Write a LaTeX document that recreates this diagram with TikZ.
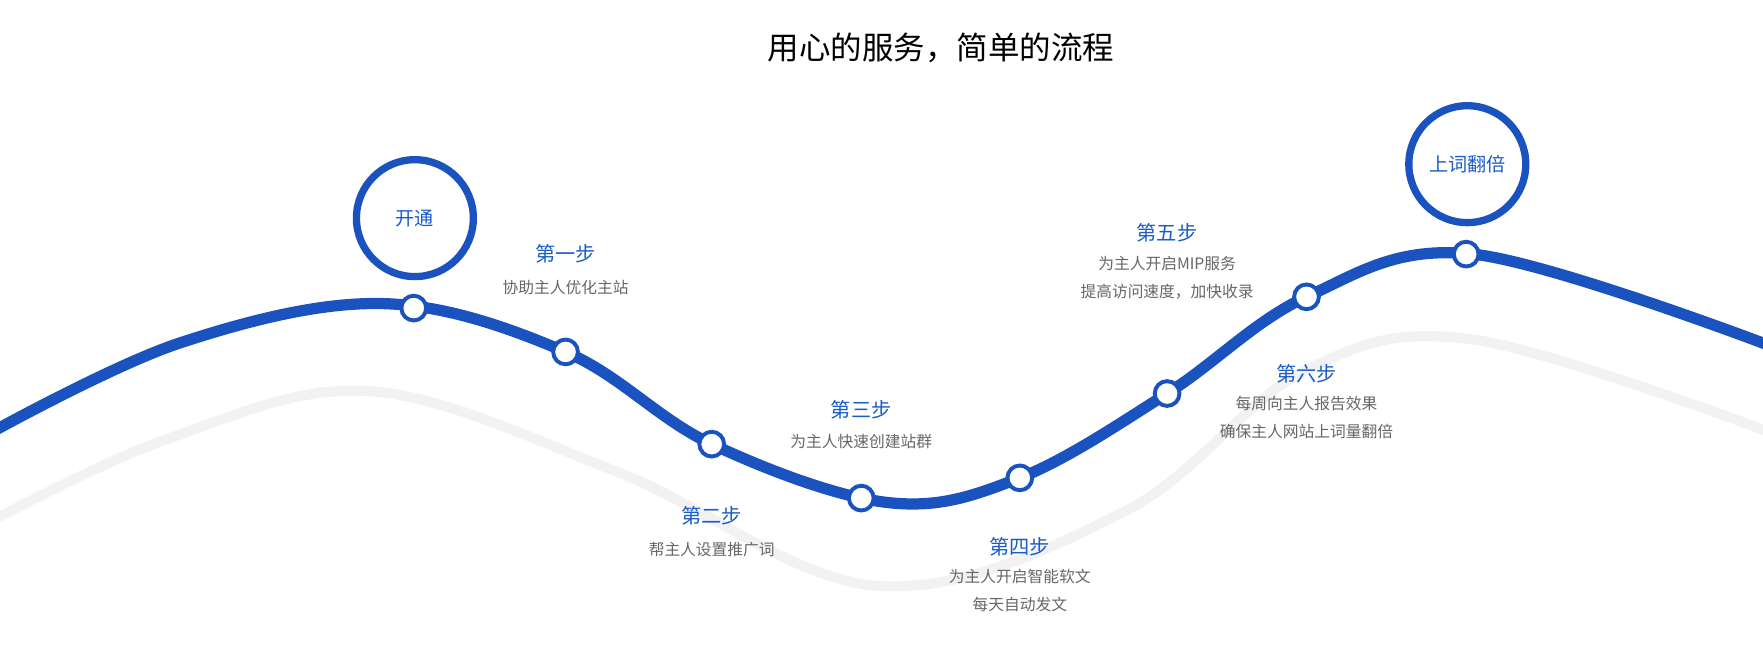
\documentclass[tikz,border=0pt]{standalone}
\usepackage{fontspec}
\setmainfont{Noto Sans CJK SC}
\definecolor{lineblue}{HTML}{1A53BF}
\definecolor{textblue}{HTML}{1A5CC8}
\definecolor{textgray}{HTML}{666666}
\definecolor{trackgray}{HTML}{F2F2F2}
\tikzset{
  dot/.style={circle,draw=lineblue,line width=3.5pt,fill=white,minimum size=22pt,inner sep=0pt},
  bigring/.style={circle,draw=lineblue,line width=6.5pt,fill=white,minimum size=104pt,inner sep=0pt,text=textblue,font=\fontsize{17}{20}\selectfont},
  steptitle/.style={text=textblue,font=\fontsize{18}{20}\selectfont},
  stepdesc/.style={text=textgray,font=\fontsize{14}{25}\selectfont,align=center}
}
\begin{document}
\begin{tikzpicture}[x=1pt,y=-1pt]
			\useasboundingbox (0,0) rectangle (1568,581);
			% gray track
			\draw[trackgray,line width=9pt] plot[smooth,tension=0.6] coordinates {(-5,462) (150,390) (330,348) (550,420) (780,521) (1000,455) (1160,330) (1310,302) (1573,384)};
			% blue track
			\draw[lineblue,line width=10pt] plot[smooth,tension=0.6] coordinates {(-5,383) (160,305) (340,270) (503,313) (633,395) (790,447) (907,425) (1038,350) (1162,264) (1310,226) (1573,307)};
			
			\node (title) at (837,43) {\fontsize{28}{30}\selectfont 用心的服务，简单的流程};
			
			\node[bigring] (open) at (369,194) {开通};
			\node[bigring] (double) at (1305,146) {上词翻倍};
			
			\node[dot] (p0) at (368,274) {};
			\node[dot] (p1) at (503,313) {};
			\node[dot] (p2) at (633,395) {};
			\node[dot] (p3) at (766,443) {};
			\node[dot] (p4) at (907,425) {};
			\node[dot] (p5) at (1038,350) {};
			\node[dot] (p6) at (1162,264) {};
			\node[dot] (p7) at (1304,226) {};
			
			\node[steptitle] (s1) at (503,226) {第一步};
			\node[stepdesc] (d1) at (503,256) {协助主人优化主站};
			\node[steptitle] (s2) at (633,459) {第二步};
			\node[stepdesc] (d2) at (633,489) {帮主人设置推广词};
			\node[steptitle] (s3) at (766,364) {第三步};
			\node[stepdesc] (d3) at (766,393) {为主人快速创建站群};
			\node[steptitle] (s4) at (907,486) {第四步};
			\node[stepdesc,anchor=north] (d4) at (907,503) {为主人开启智能软文\\每天自动发文};
			\node[steptitle] (s5) at (1038,207) {第五步};
			\node[stepdesc,anchor=north] (d5) at (1038,224) {为主人开启MIP服务\\提高访问速度，加快收录};
			\node[steptitle] (s6) at (1162,332) {第六步};
			\node[stepdesc,anchor=north] (d6) at (1162,349) {每周向主人报告效果\\确保主人网站上词量翻倍};
			\end{tikzpicture}
\end{document}
